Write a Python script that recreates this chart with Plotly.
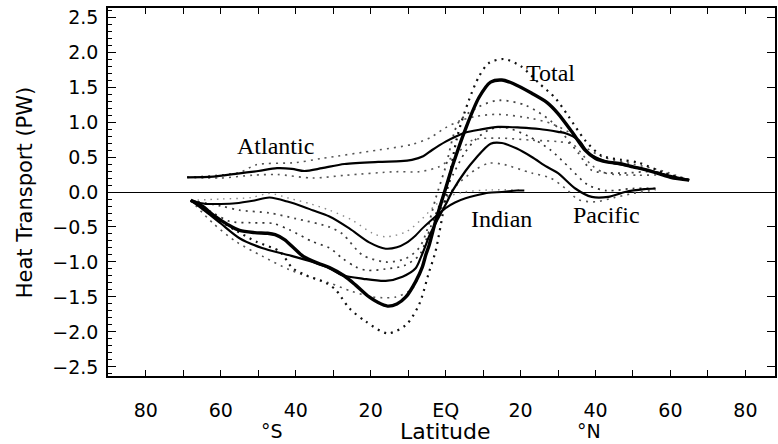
import plotly.graph_objects as go

# ---------------- data ----------------
TOT_LAT = [-68, -65, -62, -58, -55, -51, -47.5, -45.5, -43, -40.5, -38, -34, -31, -27, -24, -20.4,
           -18, -15.5, -13, -10.6, -8, -6.2, -5.3, -4.4, -2.7, -1, 0, 2, 5.3, 8.9, 12, 15, 18, 23,
           27, 30, 33.7, 37.2, 40, 43, 47, 50, 54, 60, 65]
TOT_VAL = [-0.12, -0.2, -0.33, -0.47, -0.55, -0.58, -0.59, -0.61, -0.68, -0.8, -0.92, -1.02, -1.08,
           -1.2, -1.33, -1.5, -1.58, -1.63, -1.6, -1.5, -1.28, -1.07, -0.9, -0.76, -0.42, -0.12,
           0.05, 0.4, 0.9, 1.35, 1.57, 1.6, 1.55, 1.41, 1.28, 1.12, 0.86, 0.6, 0.48, 0.43, 0.4,
           0.36, 0.31, 0.21, 0.17]

ATL_LAT = [-69, -62, -56, -50, -45, -41, -37.7, -33, -27, -18, -12, -9, -6, -3.6, 0, 2.6, 5.3, 9,
           14, 20, 25, 30, 32, 35.5, 38.1, 42.6, 46, 50, 55, 60, 65]
ATL_VAL = [0.21, 0.22, 0.26, 0.30, 0.34, 0.33, 0.30, 0.34, 0.40, 0.43, 0.44, 0.46, 0.51, 0.60,
           0.72, 0.79, 0.85, 0.89, 0.93, 0.92, 0.90, 0.86, 0.84, 0.74, 0.56, 0.44, 0.40, 0.36,
           0.30, 0.23, 0.17]

PAC_LAT = [-68, -64, -60, -55, -49, -42, -35.5, -31, -27.5, -22, -16, -11.5, -8, -6.5, -5.3, -4.4,
           -2, 0, 2, 5.3, 8, 12, 15, 19, 23, 27, 30, 34.6, 39, 43.4, 47.9, 53, 56]
PAC_VAL = [-0.12, -0.28, -0.45, -0.66, -0.8, -0.9, -1.0, -1.09, -1.19, -1.24, -1.27, -1.21, -1.09,
           -0.92, -0.76, -0.63, -0.38, -0.18, 0.03, 0.3, 0.48, 0.69, 0.7, 0.62, 0.5, 0.36, 0.27,
           0.05, -0.07, -0.07, 0.0, 0.04, 0.05]

IND_LAT = [-68, -64, -60, -56, -51, -47, -42, -38, -35.5, -31, -25.7, -20.4, -16, -13, -10.6, -8,
           -6.2, -2.7, 0, 2.5, 5.3, 8, 11.5, 15, 19, 21]
IND_VAL = [-0.12, -0.17, -0.17, -0.16, -0.12, -0.08, -0.14, -0.21, -0.26, -0.35, -0.52, -0.72,
           -0.81, -0.79, -0.73, -0.62, -0.52, -0.35, -0.23, -0.15, -0.09, -0.05, -0.01, 0.0,
           0.02, 0.02]

# dotted range estimates
TOT_OUT_LAT = [-68, -62, -56, -50.5, -44.3, -40.8, -37.2, -31.9, -29.3, -25.7, -21.3, -15.5, -10.6,
               -7.1, -4.4, -2.7, 0, 3.1, 6.2, 8.9, 11.5, 15.5, 20, 25, 29.3, 32.8, 37.2, 41.6, 47,
               51.4, 58.5, 64.7]
TOT_OUT_VAL = [-0.12, -0.35, -0.55, -0.71, -0.85, -1.09, -1.19, -1.3, -1.4, -1.66, -1.85, -2.02,
               -1.9, -1.61, -1.14, -0.85, -0.09, 0.79, 1.31, 1.65, 1.84, 1.9, 1.8, 1.55, 1.34,
               1.08, 0.74, 0.52, 0.46, 0.42, 0.27, 0.17]

TOT_IN_LAT = [-68, -60, -55, -47, -40, -31, -27.5, -22.2, -16, -10.6, -7.1, -5.3, -2.7, 0, 3.5,
              8.9, 14.2, 21.3, 28.4, 35.5, 39, 47, 55.9, 65]
TOT_IN_VAL = [-0.12, -0.2, -0.26, -0.3, -0.38, -0.5, -0.6, -0.9, -1.0, -0.95, -0.8, -0.6, -0.1,
              0.36, 1.0, 1.22, 1.31, 1.24, 1.0, 0.55, 0.31, 0.27, 0.29, 0.17]

ATL_HI_LAT = [-69, -55, -50.5, -40, -33, -18, -9, -4, 0, 4, 8, 14, 23, 28, 33, 37, 42, 50, 58, 65]
ATL_HI_VAL = [0.21, 0.28, 0.39, 0.42, 0.48, 0.6, 0.68, 0.78, 0.92, 1.02, 1.08, 1.11, 1.05, 0.98,
              0.85, 0.65, 0.5, 0.4, 0.3, 0.17]

ATL_LO_LAT = [-69, -60, -51.4, -45, -35.5, -26.6, -13.3, -7.1, -1.8, 3, 7.1, 14.2, 23, 30, 34,
              36.3, 39, 42.6, 51.4, 58.5, 65]
ATL_LO_VAL = [0.21, 0.2, 0.24, 0.25, 0.2, 0.24, 0.29, 0.29, 0.36, 0.55, 0.74, 0.77, 0.74, 0.72,
              0.68, 0.55, 0.38, 0.27, 0.24, 0.24, 0.17]

PAC_HI_LAT = [-68, -62, -57.6, -52, -46, -41.7, -35.5, -31, -27.5, -24, -21, -16, -11, -7, -4, -1,
              2, 5, 8, 12, 16, 22, 28, 33, 38, 43, 50, 56]
PAC_HI_VAL = [-0.12, -0.3, -0.42, -0.44, -0.45, -0.54, -0.71, -0.8, -0.95, -1.07, -1.12, -1.1,
              -1.05, -0.9, -0.5, -0.1, 0.25, 0.55, 0.75, 0.9, 0.92, 0.8, 0.6, 0.35, 0.1, 0.02,
              0.05, 0.05]

PAC_LO_LAT = [-68, -62, -55.9, -48.8, -41.7, -36, -31, -25, -19.5, -16.9, -13.3, -8.9, -6.5, -4.5,
              -2, 0, 3, 8, 11.5, 15, 23, 28, 32, 35.5, 40, 45, 50, 56]
PAC_LO_VAL = [-0.12, -0.45, -0.71, -0.92, -1.11, -1.22, -1.3, -1.42, -1.5, -1.51, -1.5, -1.38,
              -1.1, -0.75, -0.35, -0.1, 0.1, 0.32, 0.41, 0.4, 0.27, 0.2, 0.05, -0.11, -0.14,
              -0.08, -0.02, 0.03]

IND_HI_LAT = [-68, -60, -52, -47, -41.7, -36, -31, -25, -19.5, -16, -10.6, -6.2, -3, 0, 5, 12, 20]
IND_HI_VAL = [-0.12, -0.1, -0.08, -0.02, -0.09, -0.17, -0.26, -0.4, -0.59, -0.64, -0.57, -0.38,
              -0.2, -0.08, 0.0, 0.03, 0.03]

XTICK_VALS = [-80, -60, -40, -20, 0, 20, 40, 60, 80]
XTICK_TEXT = ["80", "60", "40", "20", "EQ", "20", "40", "60", "80"]

LABELS = ["Atlantic", "Total", "Indian", "Pacific"]
LABEL_LAT = [-45.5, 28.0, 14.8, 43.0]
LABEL_VAL = [0.66, 1.70, -0.39, -0.33]

# ---------------- figure ----------------
fig = go.Figure()

def dotted(x, y, color, width, dash):
    fig.add_trace(go.Scatter(x=x, y=y, mode="lines", hoverinfo="skip",
                             line=dict(color=color, width=width, dash=dash,
                                       shape="spline", smoothing=0.8)))

dotted(IND_HI_LAT, IND_HI_VAL, "#8a8a8a", 1.4, "1.5px,5px")
dotted(ATL_HI_LAT, ATL_HI_VAL, "#555555", 1.6, "2px,5px")
dotted(ATL_LO_LAT, ATL_LO_VAL, "#555555", 1.6, "2px,5px")
dotted(PAC_HI_LAT, PAC_HI_VAL, "#333333", 1.7, "2px,5px")
dotted(PAC_LO_LAT, PAC_LO_VAL, "#555555", 1.6, "2px,5px")
dotted(TOT_IN_LAT, TOT_IN_VAL, "#444444", 1.8, "2px,5px")
dotted(TOT_OUT_LAT, TOT_OUT_VAL, "#111111", 2.2, "2px,5px")

def solid(x, y, width):
    fig.add_trace(go.Scatter(x=x, y=y, mode="lines", hoverinfo="skip",
                             line=dict(color="black", width=width, shape="spline", smoothing=0.8)))

solid(ATL_LAT, ATL_VAL, 2.2)
solid(PAC_LAT, PAC_VAL, 2.2)
solid(IND_LAT, IND_VAL, 2.0)
solid(TOT_LAT, TOT_VAL, 3.4)

# invisible trace for the mirrored (top/right) tick axes
fig.add_trace(go.Scatter(x=[None], y=[None], xaxis="x2", yaxis="y2", showlegend=False,
                         hoverinfo="skip"))

XR = [-90.1, 87.9]
YR = [-2.629, 2.629]
TICKFONT = dict(family="DejaVu Sans", size=19, color="black")

fig.update_layout(
    width=778, height=444,
    margin=dict(l=108, r=1, t=8, b=68),
    paper_bgcolor="white", plot_bgcolor="white",
    showlegend=False,
    xaxis=dict(range=XR, tickvals=XTICK_VALS, ticktext=XTICK_TEXT,
               ticks="inside", ticklen=6, tickwidth=1.3, tickcolor="black",
               showline=True, linecolor="black", linewidth=1.6, mirror=True,
               showgrid=False, zeroline=False, tickfont=TICKFONT, ticklabelstandoff=16,
               minor=dict(dtick=10, tick0=0, ticks="inside", ticklen=6, tickwidth=1.3,
                          tickcolor="black", showgrid=False)),
    yaxis=dict(range=YR, dtick=0.5, tick0=0, tickformat=".1f",
               ticks="inside", ticklen=8, tickwidth=1.3, tickcolor="black",
               showline=True, linecolor="black", linewidth=1.6, mirror=True,
               showgrid=False, zeroline=True, zerolinecolor="black", zerolinewidth=1.2,
               tickfont=TICKFONT, ticklabelstandoff=4,
               minor=dict(dtick=0.1, tick0=0, ticks="inside", ticklen=4, tickwidth=1.1,
                          tickcolor="black", showgrid=False)),
    xaxis2=dict(range=XR, overlaying="x", side="top", dtick=10, tick0=0,
                ticks="inside", ticklen=6, tickwidth=1.3, tickcolor="black",
                showticklabels=False, showgrid=False, zeroline=False, showline=False),
    yaxis2=dict(range=YR, overlaying="y", side="right", dtick=0.5, tick0=0,
                ticks="inside", ticklen=8, tickwidth=1.3, tickcolor="black",
                showticklabels=False, showgrid=False, zeroline=False, showline=False),
)

# curve labels
for txt, lx, ly in zip(LABELS, LABEL_LAT, LABEL_VAL):
    fig.add_annotation(x=lx, y=ly, xref="x", yref="y", text=txt, showarrow=False,
                       font=dict(family="Liberation Serif", size=24, color="black"),
                       xanchor="center", yanchor="middle")

# axis titles
fig.add_annotation(x=-0.124, y=0.5, xref="paper", yref="paper", text="Heat Transport (PW)",
                   textangle=-90, showarrow=False, xanchor="center", yanchor="middle",
                   font=dict(family="DejaVu Sans", size=21, color="black"))
for txt, px, fs in [("°S", 0.2466, 19), ("Latitude", 0.5067, 22), ("°N", 0.7205, 19)]:
    fig.add_annotation(x=px, y=-0.1495, xref="paper", yref="paper", text=txt, showarrow=False,
                       xanchor="center", yanchor="middle",
                       font=dict(family="DejaVu Sans", size=fs, color="black"))

# the page's default 8px body margin would shift the 778x444 figure out of the window
fig.write_html("out.html", config={"displayModeBar": False},
               post_script="document.body.style.margin='0';document.body.style.overflow='hidden';")
